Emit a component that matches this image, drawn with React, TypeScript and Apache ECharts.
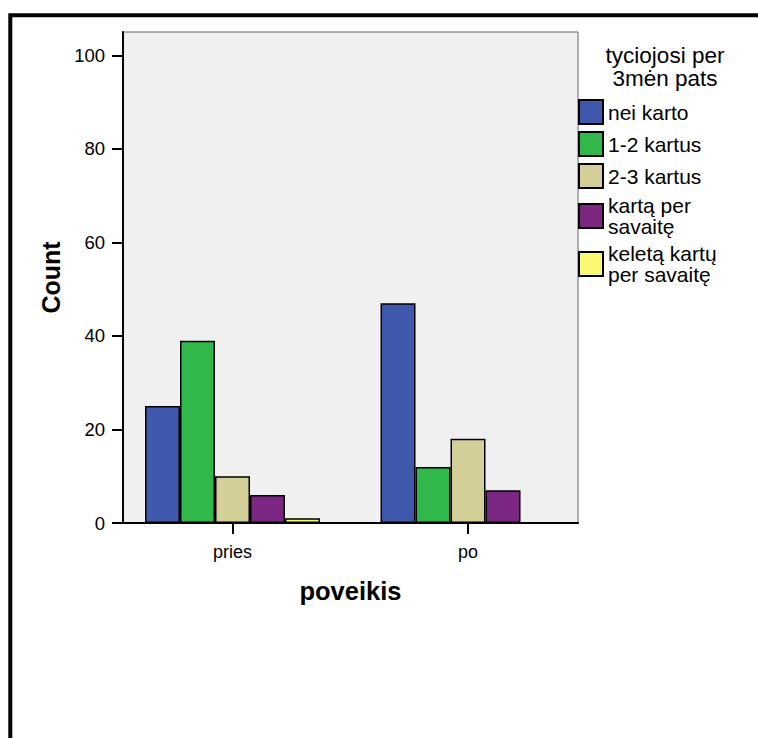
import React, { useEffect, useRef } from "react";
import * as echarts from "echarts";

const categories = ["pries", "po"];
const seriesNames = ["nei karto", "1-2 kartus", "2-3 kartus", "kartą per\nsavaitę", "keletą kartų\nper savaitę"];
const neiKarto = [25, 47];
const kartus12 = [39, 12];
const kartus23 = [10, 18];
const kartaPerSavaite = [6, 7];
const keletaKartu = [1, 0];
const yTicks = [0, 20, 40, 60, 80, 100];
const legendTitle = ["tyciojosi per", "3mėn pats"];
const colors = ["#3e58ac", "#30b84a", "#d4cf98", "#7b2781", "#fbf871"];

const FONT = "'Liberation Sans', Arial, sans-serif";

export default function App() {
  const ref = useRef<HTMLDivElement>(null);
  useEffect(() => {
    if (!ref.current) return;
    const chart = echarts.init(ref.current, null, { renderer: "svg" });
    const allValues = [neiKarto, kartus12, kartus23, kartaPerSavaite, keletaKartu];
    const series = allValues.map((vals, si) => ({
      type: "bar",
      name: seriesNames[si],
      barWidth: 35,
      barGap: "0%",
      data: categories.map((_, ci) => [ci, vals[ci]]),
      itemStyle: { color: colors[si], borderColor: "#000", borderWidth: 1.5 },
    }));
    chart.setOption({
      animation: false,
      textStyle: { fontFamily: FONT, color: "#000" },
      grid: {
        left: 123,
        top: 32,
        width: 455,
        height: 491,
        show: true,
        backgroundColor: "#f0f0f0",
        borderColor: "#666",
        borderWidth: 1,
      },
      xAxis: {
        type: "value",
        min: -0.465,
        max: 1.467,
        name: "poveikis",
        nameLocation: "middle",
        nameGap: 55,
        nameTextStyle: { fontSize: 25.5, fontWeight: "bold", fontFamily: FONT, color: "#000" },
        splitLine: { show: false },
        axisLine: { show: true, onZero: false, lineStyle: { color: "#000", width: 2 } },
        axisTick: { show: true, length: 11, customValues: [0, 1], lineStyle: { color: "#000", width: 2 } },
        axisLabel: {
          customValues: [0, 1],
          margin: 20,
          fontSize: 18,
          color: "#000",
          fontFamily: FONT,
          formatter: (v: number) => categories[Math.round(v)] ?? "",
        },
      },
      yAxis: {
        type: "value",
        min: 0,
        max: 105,
        name: "Count",
        nameLocation: "middle",
        nameGap: 56,
        nameRotate: 90,
        nameTextStyle: { fontSize: 25, fontWeight: "bold", fontFamily: FONT, color: "#000" },
        splitLine: { show: false },
        axisLine: { show: true, onZero: false, lineStyle: { color: "#000", width: 2 } },
        axisTick: { show: true, length: 11, customValues: yTicks, lineStyle: { color: "#000", width: 2 } },
        axisLabel: { customValues: yTicks, margin: 18, fontSize: 18.5, color: "#000", fontFamily: FONT },
      },
      legend: {
        orient: "vertical",
        left: 578,
        top: 99,
        padding: 0,
        itemWidth: 24,
        itemHeight: 24,
        itemGap: 6,
        itemTextGap: 8,
        icon: "rect",
        data: seriesNames,
        textStyle: { fontSize: 21, lineHeight: 21, color: "#000", fontFamily: FONT },
      },
      graphic: [
        ...legendTitle.map((t, i) => ({
          type: "text",
          x: 665,
          y: 55 + i * 23,
          style: {
            text: t,
            fontSize: 22.5,
            fontFamily: FONT,
            align: "center",
            verticalAlign: "middle",
            fill: "#000",
          },
        })),
        {
          type: "rect",
          shape: { x: 10.3, y: 15.3, width: 900, height: 900 },
          style: { fill: "none", stroke: "#000", lineWidth: 4 },
          z: 100,
        },
      ],
      series,
    });
    return () => chart.dispose();
  }, []);
  return <div ref={ref} style={{ position: "absolute", left: 0, top: 0, width: 758, height: 738 }} />;
}
